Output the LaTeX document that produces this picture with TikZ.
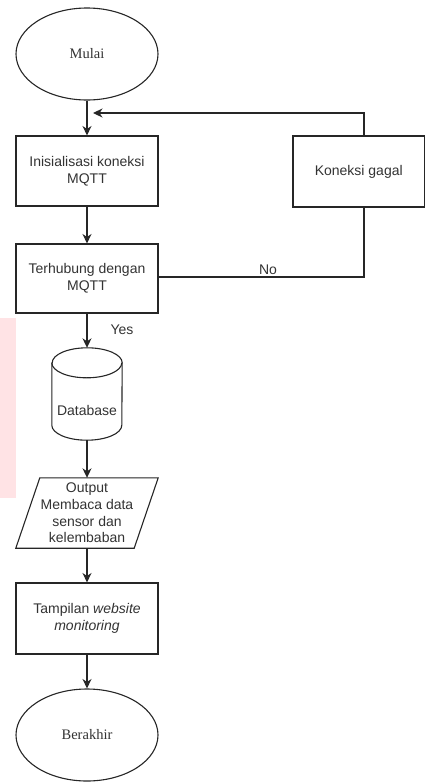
\documentclass[tikz,border=0pt]{standalone}
\usepackage{fontspec}
\setmainfont{Liberation Sans}
\newfontfamily\serifx{Liberation Serif}
\usetikzlibrary{shapes.geometric,arrows.meta}
\definecolor{ln}{HTML}{262626}
\definecolor{tx}{HTML}{333333}
\definecolor{wm}{HTML}{FFE3E5}
\tikzset{
  shp/.style={draw=ln,line width=1.1pt,fill=white},
  boxx/.style={shp,rectangle,minimum width=142pt,minimum height=70pt,inner sep=2pt,align=center,text=tx,font=\fontsize{14}{16.7}\selectfont},
  term/.style={shp,ellipse,minimum width=142pt,minimum height=92pt,inner sep=0pt,text=tx,font=\serifx\fontsize{14.5}{16.7}\selectfont},
  ghost/.style={rectangle,inner sep=0pt,align=center,text=tx,font=\fontsize{14}{16.7}\selectfont},
  conn/.style={draw=ln,line width=1.1pt,-{Stealth[length=9.5pt,width=9pt,inset=3pt]}},
  plain/.style={draw=ln,line width=1.1pt},
  lbl/.style={text=tx,font=\fontsize{14}{16.7}\selectfont,inner sep=0pt}
}
\begin{document}
\begin{tikzpicture}[x=1pt,y=-1pt]
\useasboundingbox (0,0) rectangle (425,782);
\fill[wm] (0,318) rectangle (16,498);

\node[term] (mulai) at (87,54) {Mulai};
\node[boxx] (init) at (87,171) {Inisialisasi koneksi\\MQTT};
\node[boxx,minimum width=131.5pt,minimum height=71pt] (gagal) at (358.75,171.5) {Koneksi gagal};
\node[boxx,minimum height=69pt] (terh) at (87,278.5) {Terhubung dengan\\MQTT};

\node[ghost,minimum width=70pt,minimum height=92pt] (db) at (87,394) {};
\draw[shp] ([yshift=-15pt]db.north west) -- ([yshift=15pt]db.south west)
  arc[start angle=180,end angle=360,x radius=35pt,y radius=15pt]
  -- ([yshift=-15pt]db.north east)
  arc[start angle=0,end angle=180,x radius=35pt,y radius=15pt] -- cycle;
\draw[plain] ([yshift=-15pt]db.north west) arc[start angle=180,end angle=360,x radius=35pt,y radius=15pt];
\node[lbl] at ([yshift=-16pt]db.center) {Database};

\node[ghost,minimum width=142pt,minimum height=70pt] (out) at (87,513) {};
\draw[shp] ([xshift=24pt]out.north west) -- (out.north east) -- ([xshift=-24pt]out.south east) -- (out.south west) -- cycle;
\node[lbl,align=center] at (out.center) {Output\\Membaca data\\sensor dan\\kelembaban};

\node[boxx,minimum height=71pt] (tamp) at (87,618.5) {Tampilan \textit{website}\\\textit{monitoring}};
\node[term] (akhir) at (87,735) {Berakhir};

\coordinate (fb) at (364,113);
\coordinate (fbend) at (93,113);

\draw[conn] (mulai.south) -- (init.north);
\draw[conn] (init.south) -- (terh.north);
\draw[conn] (terh.south) -- (db.north);
\draw[conn] (db.south) -- (out.north);
\draw[conn] (out.south) -- (tamp.north);
\draw[conn] (tamp.south) -- (akhir.north);
\draw[conn] (gagal.north -| fb) -- (fb) -- (fbend);
\draw[plain] (terh.east |- 0,277) -- (fb |- 0,277) -- (gagal.south -| fb);

\node[lbl] at (122,330) {Yes};
\node[lbl] at (268,270) {No};
\end{tikzpicture}
\end{document}
